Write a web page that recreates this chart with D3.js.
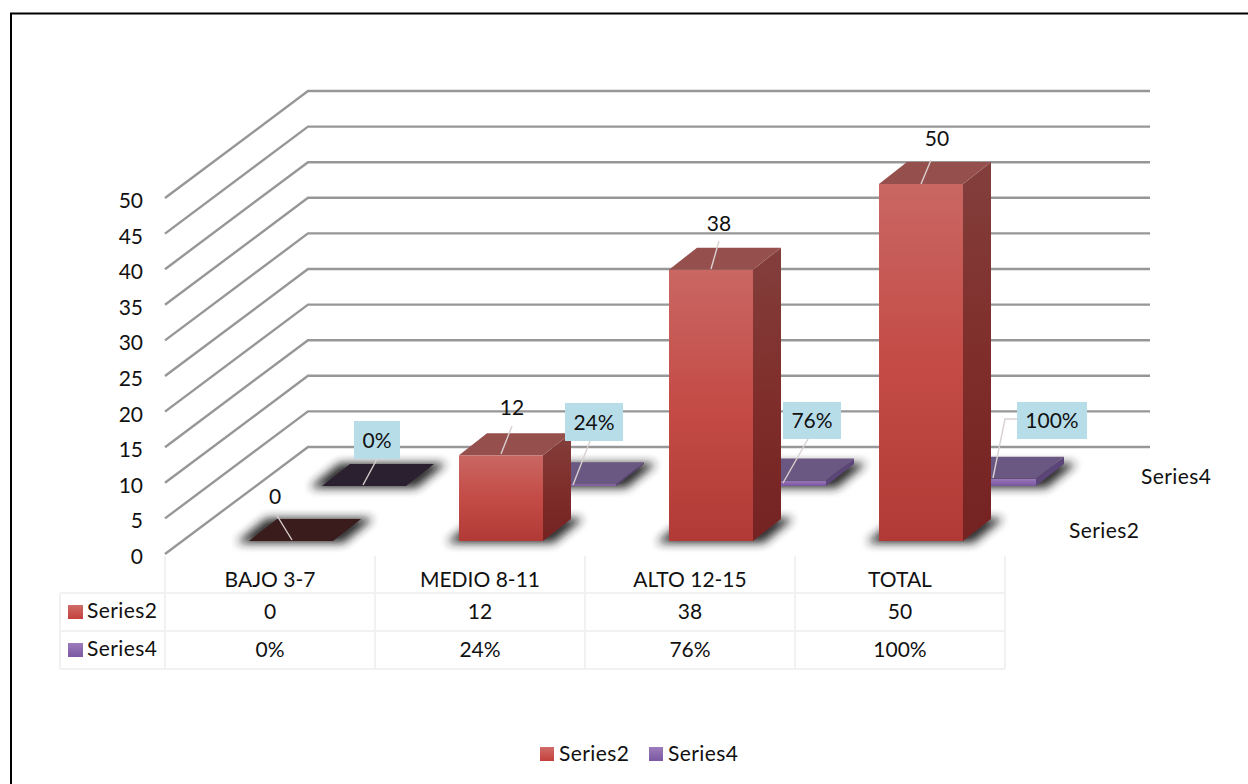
<!DOCTYPE html>
<html>
<head>
<meta charset="utf-8">
<script src="https://cdn.jsdelivr.net/npm/d3@7/dist/d3.min.js"></script>
<style>
html,body{margin:0;padding:0;background:#fff;overflow:hidden}
text{font-family:Lato,"Open Sans",sans-serif;fill:#111;font-size:21px}
text.name{letter-spacing:.4px}
</style>
</head>
<body>
<svg id="chart" width="1248" height="784"></svg>
<script>
// Chart content
const categories = ["BAJO 3-7", "MEDIO 8-11", "ALTO 12-15", "TOTAL"];
const series2 = [0, 12, 38, 50];
const series4 = [0, 0.24, 0.76, 1];
const series4Labels = ["0%", "24%", "76%", "100%"];
const yTicks = d3.range(0, 51, 5);
const seriesNames = ["Series2", "Series4"];

// Layout of the 3D frame
const svg = d3.select("#chart");
const plotLeft = 165, plotRight = 1005;
const wallDX = 143, wallDY = -107, gridEnd = 1150;
const rowY = {s2: 541, s4: 486};
const barW = 84, depthX = 28, depthY = -22;

const x = d3.scaleBand().domain(categories).range([plotLeft, plotRight]);
const yAxisScale = d3.scaleLinear().domain([0, 50]).range([554, 198]);
const h = d3.scaleLinear().domain([0, 50]).range([0, 357]);

const defs = svg.append("defs");
defs.append("filter").attr("id", "soft").attr("x", "-40%").attr("y", "-80%").attr("width", "180%").attr("height", "260%")
  .append("feGaussianBlur").attr("stdDeviation", 5);

function gradient(id, stops) {
  const g = defs.append("linearGradient").attr("id", id).attr("x1", 0).attr("y1", 0).attr("x2", 0).attr("y2", 1);
  stops.forEach(([o, c]) => g.append("stop").attr("offset", o).attr("stop-color", c));
}
gradient("redFront", [[0, "#c96763"], [0.5, "#c44b46"], [1, "#b23a36"]]);
gradient("redSide", [[0, "#833f3c"], [0.5, "#7f2e2b"], [1, "#752222"]]);
gradient("purpleFront", [[0, "#9a78bb"], [1, "#7a559f"]]);
gradient("redKey", [[0, "#d06c68"], [1, "#c4403c"]]);
gradient("purpleKey", [[0, "#9d7cbc"], [1, "#7b58a0"]]);

// Frame border
svg.append("path").attr("d", "M11,784V13.5H1248").attr("fill", "none").attr("stroke", "#000").attr("stroke-width", 2);

// Side wall and back wall gridlines
const grid = svg.append("g");
grid.selectAll("path").data(yTicks).join("path")
  .attr("fill", "none").attr("stroke", "#979797").attr("stroke-width", 2.4)
  .attr("d", d => {
    const y0 = yAxisScale(d);
    return `M${plotLeft},${y0}L${plotLeft + wallDX},${y0 + wallDY}H${gridEnd}`;
  });

// Value axis labels
const axis = svg.append("g").attr("transform", "translate(143,2)")
  .call(d3.axisLeft(yAxisScale).tickValues(yTicks).tickSize(0).tickPadding(0));
axis.select(".domain").remove();
axis.selectAll("text").style("font-family", "Lato,sans-serif").style("font-size", "21px").attr("dy", "0.36em");

const pts = a => a.map(p => p.join(",")).join(" ");

function drawSeries(values, baseY, shift, c) {
  const g = svg.append("g");
  categories.forEach((cat, i) => {
    const x0 = x(cat) + (x.bandwidth() - barW) / 2 + shift;
    const x1 = x0 + barW;
    const top = baseY - h(values[i]);
    // Floor shadow, wider than the foot of the bar and fading outwards
    const spread = 10;
    g.append("polygon")
      .attr("points", pts([[x0 - spread, baseY + 1], [x1 + spread, baseY + 1], [x1 + depthX + spread, baseY + depthY], [x0 + depthX - spread, baseY + depthY]]))
      .attr("fill", "#202020").attr("stroke", "#202020").attr("stroke-width", 2)
      .attr("stroke-linejoin", "round").attr("filter", "url(#soft)").attr("opacity", 0.95);
    // Side, front, top faces
    g.append("polygon").attr("points", pts([[x1, baseY], [x1 + depthX, baseY + depthY], [x1 + depthX, top + depthY], [x1, top]]))
      .attr("fill", c.side);
    g.append("rect").attr("x", x0).attr("y", top).attr("width", barW).attr("height", baseY - top).attr("fill", c.front);
    g.append("polygon").attr("points", pts([[x0, top], [x1, top], [x1 + depthX, top + depthY], [x0 + depthX, top + depthY]]))
      .attr("fill", values[i] === 0 ? c.empty : c.top);
  });
}

drawSeries(series4, rowY.s4, 94, {side: "#5b4579", front: "url(#purpleFront)", top: "#6b5882", empty: "#2a2030"});
drawSeries(series2, rowY.s2, 21, {side: "url(#redSide)", front: "url(#redFront)", top: "#95504d", empty: "#3a1c1c"});

// Data labels and their leader lines
const leaders2 = [[[292, 540], [276, 514]], [[501, 454], [512, 426]], [[711, 269], [719, 241]], [[921, 184], [931, 160]]];
const leaders4 = [[[363, 485], [377, 459]], [[573, 485], [590, 441]], [[783, 483], [808, 439]], [[993, 478], [1005, 419], [1017, 419]]];
const labels2At = [[275, 496], [512, 407], [719, 223], [937, 138]];
const boxes4 = [[354, 421, 46, 38], [565, 403, 58, 38], [783, 402, 58, 37], [1017, 402, 70, 37]];

const lineGen = d3.line();
[...leaders2, ...leaders4].forEach(l => {
  svg.append("path").attr("d", lineGen(l)).attr("fill", "none").attr("stroke", "#d9d0d0").attr("stroke-width", 1.4);
});
series2.forEach((v, i) => {
  svg.append("text").attr("x", labels2At[i][0]).attr("y", labels2At[i][1]).attr("dy", "0.36em")
    .attr("text-anchor", "middle").text(v);
});
series4Labels.forEach((t, i) => {
  const [bx, by, bw, bh] = boxes4[i];
  svg.append("rect").attr("x", bx).attr("y", by).attr("width", bw).attr("height", bh).attr("fill", "#b7dde8");
  svg.append("text").attr("x", bx + bw / 2).attr("y", by + bh / 2).attr("dy", "0.36em")
    .attr("text-anchor", "middle").text(t);
});

// Depth axis labels
svg.append("text").attr("class", "name").attr("x", 1141).attr("y", 476).attr("dy", "0.36em").text(seriesNames[1]);
svg.append("text").attr("class", "name").attr("x", 1069).attr("y", 530).attr("dy", "0.36em").text(seriesNames[0]);

// Data table
const tableLines = svg.append("g").attr("stroke", "#f1f1f1").attr("stroke-width", 2);
const rowLines = [593, 631, 669];
const tableTop = 556, keyLeft = 60;
[plotLeft, ...categories.map(c => x(c) + x.bandwidth())].forEach(vx => {
  tableLines.append("line").attr("x1", vx).attr("x2", vx).attr("y1", tableTop).attr("y2", 669);
});
tableLines.append("line").attr("x1", keyLeft).attr("x2", keyLeft).attr("y1", 593).attr("y2", 669);
rowLines.forEach(ry => {
  tableLines.append("line").attr("x1", keyLeft).attr("x2", plotRight).attr("y1", ry).attr("y2", ry);
});
const rows = [
  {y: 611, cells: series2.map(String), name: seriesNames[0], key: "url(#redKey)"},
  {y: 649, cells: series4Labels, name: seriesNames[1], key: "url(#purpleKey)"}
];
categories.forEach(cat => {
  svg.append("text").attr("x", x(cat) + x.bandwidth() / 2).attr("y", 579).attr("dy", "0.36em")
    .attr("text-anchor", "middle").text(cat);
});
rows.forEach(r => {
  svg.append("rect").attr("x", 68).attr("y", r.y - 6).attr("width", 15).attr("height", 14).attr("fill", r.key);
  svg.append("text").attr("class", "name").attr("x", 87).attr("y", r.y - 1).attr("dy", "0.36em").text(r.name);
  r.cells.forEach((t, i) => {
    svg.append("text").attr("x", x(categories[i]) + x.bandwidth() / 2).attr("y", r.y).attr("dy", "0.36em")
      .attr("text-anchor", "middle").text(t);
  });
});

// Bottom legend
[[540, 559, 0, "url(#redKey)"], [649, 668, 1, "url(#purpleKey)"]].forEach(([kx, tx, i, fill]) => {
  svg.append("rect").attr("x", kx).attr("y", 747).attr("width", 14).attr("height", 14).attr("fill", fill);
  svg.append("text").attr("class", "name").attr("x", tx).attr("y", 753).attr("dy", "0.36em").text(seriesNames[i]);
});
</script>
</body>
</html>
